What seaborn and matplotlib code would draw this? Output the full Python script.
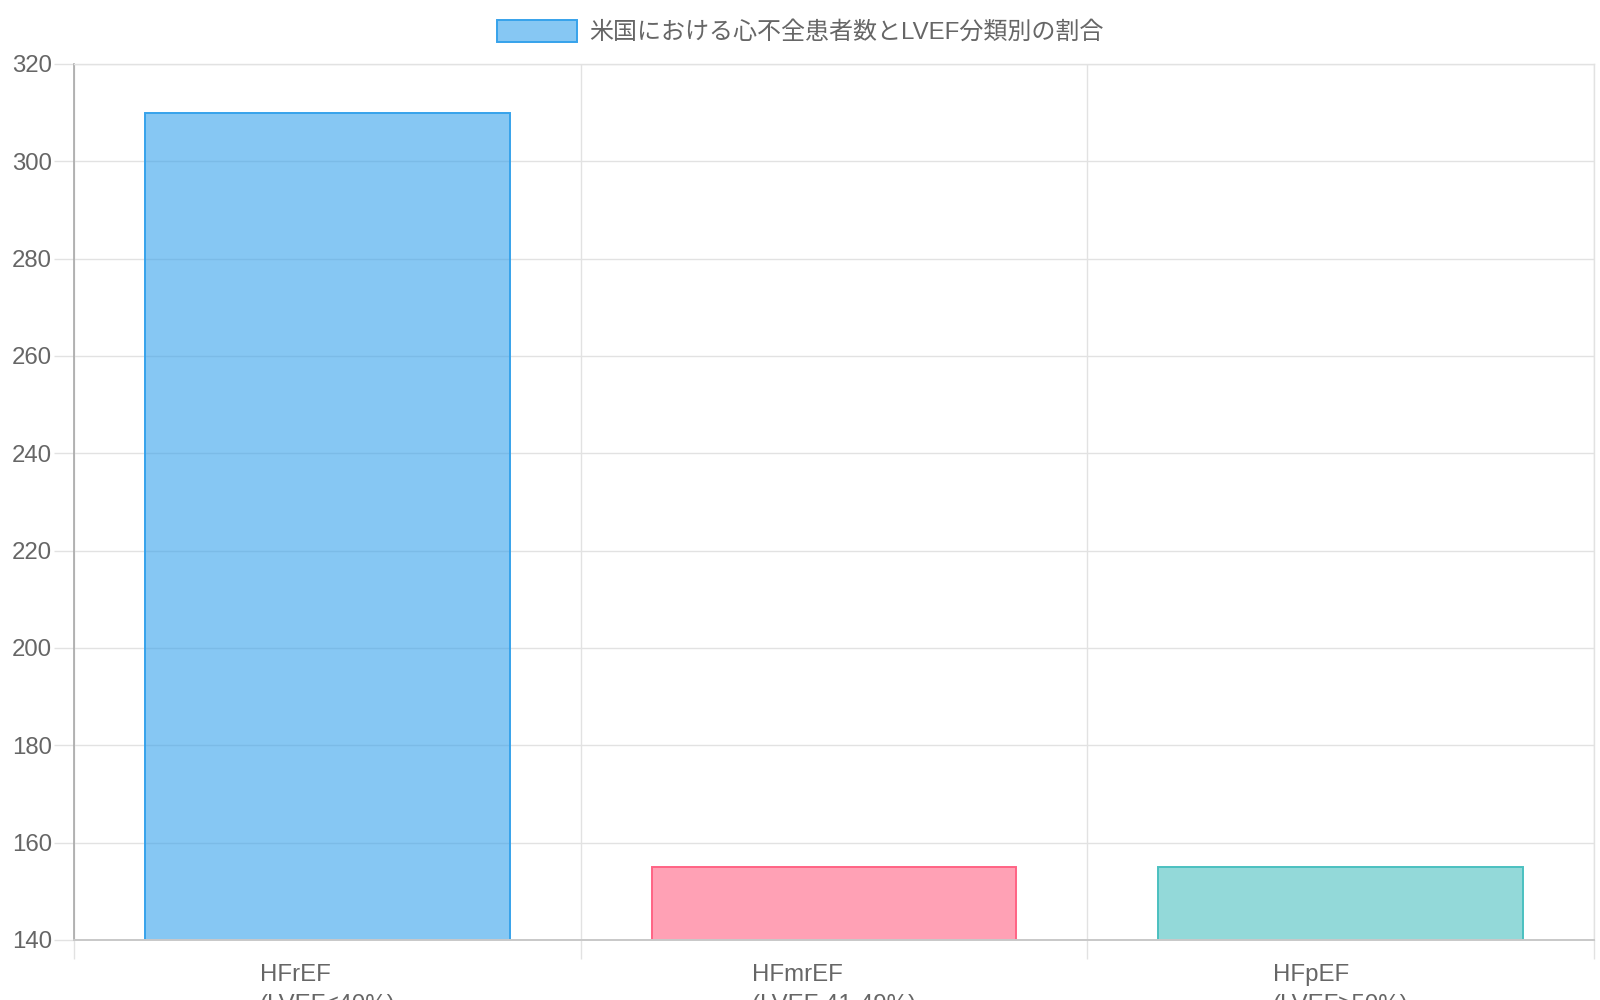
import matplotlib
matplotlib.use('Agg')
import matplotlib.pyplot as plt
from matplotlib.colors import to_rgba
from matplotlib.patches import Patch
import seaborn as sns
import pandas as pd

# Chart data
categories = ['HFrEF', 'HFmrEF', 'HFpEF']
subtitles = ['(LVEF≤40%)', '(LVEF 41-49%)', '(LVEF≥50%)']
patients = [310, 155, 155]
bar_colors = ['#36a2eb', '#ff6384', '#4bc0c0']
series_name = '米国における心不全患者数とLVEF分類別の割合'
y_ticks = list(range(140, 321, 20))

text_color = '#666666'
grid_color = '#e2e2e2'
font_pt = 17.3

sns.set_theme(style='white')
plt.rcParams['font.family'] = ['Liberation Sans', 'Noto Sans CJK JP', 'DejaVu Sans']

df = pd.DataFrame({'category': categories, 'patients': patients})

# plot area in pixels: left 74, right 1594, top 64, bottom 940
fig = plt.figure(figsize=(16, 10), dpi=100)
ax = fig.add_axes([74 / 1600, 1 - 940 / 1000, (1594 - 74) / 1600, (940 - 64) / 1000])

sns.barplot(data=df, x='category', y='patients', hue='category',
            palette=bar_colors, width=0.72, saturation=1, legend=False, ax=ax)
for cont, c in zip(ax.containers, bar_colors):
    for bar in cont:
        bar.set_facecolor(to_rgba(c, 0.6))
        bar.set_edgecolor(c)
        bar.set_linewidth(1.4)
        bar.set_zorder(2)

# Axes, ticks and grid
ax.set_xlim(-0.5, 2.5)
ax.set_ylim(140, 320)
ax.set_yticks(y_ticks)
ax.set_xticks(range(len(categories)))
ax.set_xticklabels([f'{c}\n{s}' for c, s in zip(categories, subtitles)])
for lbl in ax.get_xticklabels():
    lbl.set_multialignment('left')
    lbl.set_linespacing(1.45)
ax.set_xticks([-0.5, 0.5, 1.5, 2.5], minor=True)
ax.set_xlabel('')
ax.set_ylabel('')

ax.tick_params(axis='x', which='major', length=0, pad=17.5, labelsize=font_pt, labelcolor=text_color)
ax.tick_params(axis='x', which='minor', length=14, width=1.0, color=grid_color, bottom=True)
ax.tick_params(axis='y', length=14.4, width=1.0, color=grid_color, pad=1.5,
               labelsize=font_pt, labelcolor=text_color, left=True)
ax.grid(axis='y', which='major', color=grid_color, lw=1.0)
ax.grid(axis='x', which='minor', color=grid_color, lw=1.0)
ax.grid(axis='x', which='major', visible=False)
ax.set_axisbelow(True)

for side in ['top', 'right']:
    ax.spines[side].set_color(grid_color)
    ax.spines[side].set_linewidth(1.0)
ax.spines['left'].set_color('#a8a8a8')
ax.spines['left'].set_linewidth(1.2)
ax.spines['bottom'].set_color('#c8c8c8')
ax.spines['bottom'].set_linewidth(1.4)

# Legend
handle = Patch(facecolor=to_rgba(bar_colors[0], 0.6), edgecolor=bar_colors[0], linewidth=1.4)
leg = fig.legend(handles=[handle], labels=[series_name], loc='center',
                 bbox_to_anchor=(0.5, 0.968), frameon=False, fontsize=font_pt,
                 handlelength=3.33, handleheight=1.0, handletextpad=0.5)
for t in leg.get_texts():
    t.set_color(text_color)

fig.savefig('out.png', dpi=100)
